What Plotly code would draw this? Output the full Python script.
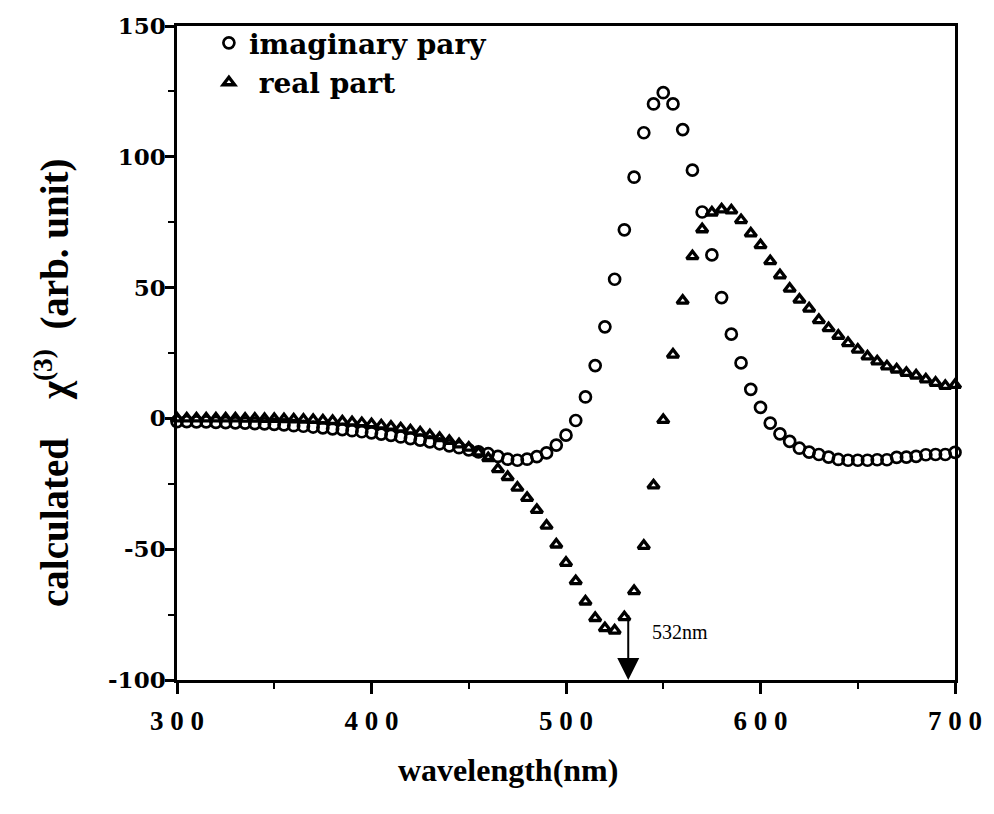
import plotly.graph_objects as go

wavelength = list(range(300, 705, 5))

imag_part = [
    -1.2, -1.2, -1.3, -1.3, -1.5, -1.6, -1.7, -1.8, -2.0, -2.1,   # 300-345
    -2.3, -2.5, -2.8, -3.0, -3.3, -3.6, -4.0, -4.3, -4.7, -5.1,   # 350-395
    -5.5, -6.0, -6.5, -7.1, -7.7, -8.3, -9.0, -9.7, -10.5, -11.2, # 400-445
    -12.0, -12.8, -13.5, -14.5, -15.6, -16.0, -15.6, -14.6, -13.2, -10.2,  # 450-495
    -6.4, -0.8, 8.2, 20.2, 35.0, 53.2, 72.1, 92.2, 109.2, 120.2,  # 500-545
    124.5, 120.2, 110.4, 94.9, 78.9, 62.5, 46.2, 32.2, 21.2, 11.1,  # 550-595
    4.2, -1.8, -5.9, -8.8, -11.4, -12.9, -13.8, -14.8, -15.7, -16.0,  # 600-645
    -16.0, -16.0, -15.8, -15.8, -14.9, -14.8, -14.5, -13.9, -13.8, -13.8,  # 650-695
    -13.0,  # 700
]

real_part = [
    0.0, 0.0, 0.0, 0.0, 0.0, 0.0, 0.0, -0.1, -0.1, -0.2,          # 300-345
    -0.2, -0.3, -0.4, -0.5, -0.6, -0.8, -1.0, -1.2, -1.5, -1.8,   # 350-395
    -2.2, -2.7, -3.2, -3.8, -4.6, -5.4, -6.4, -7.5, -8.6, -9.9,   # 400-445
    -11.2, -13.0, -15.2, -19.4, -22.4, -26.5, -30.4, -35.0, -41.0, -48.2,  # 450-495
    -55.2, -62.2, -70.0, -76.3, -80.2, -81.1, -76.0, -66.0, -48.7, -25.6,  # 500-545
    -0.6, 24.4, 45.0, 62.0, 72.3, 78.7, 79.9, 79.5, 75.8, 70.7,  # 550-595
    66.2, 60.1, 54.7, 49.6, 45.4, 42.0, 37.6, 34.5, 31.6, 28.8,  # 600-645
    26.3, 23.7, 21.8, 19.9, 18.7, 17.4, 16.4, 14.9, 13.6, 12.4,  # 650-695
    12.8,  # 700
]

x_tick_vals = [300, 400, 500, 600, 700]
x_tick_text = ["3 0 0", "4 0 0", "5 0 0", "6 0 0", "7 0 0"]
x_minor_vals = [350, 450, 550, 650]

y_tick_vals = [-100, -50, 0, 50, 100, 150]
y_tick_text = ["-100", "-50", "0", "50", "100", "150"]
y_minor_vals = [-75, -25, 25, 75, 125]

series_names = ["imaginary pary", "&nbsp;real part"]
marker_wl = 532
marker_label = "532nm"
x_title = "wavelength(nm)"
y_title = "calculated&nbsp;&nbsp;&nbsp;&nbsp;χ<sup>(3)</sup>&nbsp;&nbsp;(arb. unit)"

serif = "Liberation Serif"

fig = go.Figure()
fig.add_trace(go.Scatter(
    x=wavelength, y=imag_part, mode="markers", name=series_names[0],
    marker=dict(symbol="circle-open", size=11, color="black", line=dict(width=2.7, color="black")),
    cliponaxis=False,
))
fig.add_trace(go.Scatter(
    x=wavelength, y=real_part, mode="markers", name=series_names[1],
    marker=dict(symbol="triangle-up-open", size=10, color="black", line=dict(width=3.3, color="black")),
    cliponaxis=False,
))

fig.add_annotation(
    x=marker_wl, y=-100, ax=marker_wl, ay=-74, xref="x", yref="y", axref="x", ayref="y",
    text="&nbsp;", font=dict(size=2), showarrow=True, arrowhead=2, arrowsize=2.2, arrowwidth=2,
    arrowcolor="black", standoff=0,
)
fig.add_annotation(
    x=marker_wl + 11, y=-81.5, xref="x", yref="y", text=marker_label, showarrow=False,
    xanchor="left", yanchor="middle", font=dict(family=serif, size=20, color="black"),
)
fig.add_annotation(
    x=0.425, y=-0.138, xref="paper", yref="paper", text=x_title, showarrow=False,
    xanchor="center", yanchor="middle",
    font=dict(family=serif, size=32, color="black", weight="bold"),
)
fig.add_annotation(
    x=-0.16, y=0.455, xref="paper", yref="paper", text=y_title, showarrow=False,
    textangle=-90, xanchor="center", yanchor="middle",
    font=dict(family=serif, size=39, color="black", weight="bold"),
)

fig.update_layout(
    width=994, height=814,
    margin=dict(l=177, r=29, t=20, b=134),
    paper_bgcolor="white", plot_bgcolor="white",
    showlegend=True,
    legend=dict(
        x=0.041, y=1.012, xanchor="left", yanchor="top",
        bgcolor="rgba(0,0,0,0)", borderwidth=0,
        font=dict(family="DejaVu Serif", size=28, color="black", weight="bold"),
        itemsizing="trace", tracegroupgap=0,
    ),
    xaxis=dict(
        range=[300, 700], tickmode="array", tickvals=x_tick_vals, ticktext=x_tick_text,
        showline=True, linecolor="black", linewidth=2.5, mirror=True,
        ticks="outside", ticklen=11, tickwidth=2.5, tickcolor="black",
        minor=dict(tickvals=x_minor_vals, ticks="outside", ticklen=6, tickwidth=2, tickcolor="black"),
        showgrid=False, zeroline=False,
        tickfont=dict(family=serif, size=27, color="black", weight="bold"),
        ticklabelstandoff=4,
    ),
    yaxis=dict(
        range=[-100, 150], tickmode="array", tickvals=y_tick_vals, ticktext=y_tick_text,
        showline=True, linecolor="black", linewidth=2.5, mirror=True,
        ticks="outside", ticklen=9, tickwidth=2.5, tickcolor="black",
        minor=dict(tickvals=y_minor_vals, ticks="outside", ticklen=6, tickwidth=2, tickcolor="black"),
        showgrid=False, zeroline=False,
        tickfont=dict(family="DejaVu Serif", size=23, color="black", weight="bold"),
        ticklabelstandoff=-5,
    ),
)

fig.write_html("out.html")
